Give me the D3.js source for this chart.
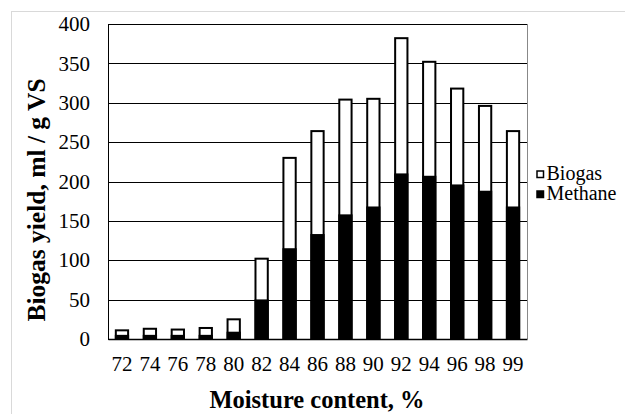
<!DOCTYPE html>
<html lang="en">
<head>
<meta charset="utf-8">
<title>Biogas yield</title>
<script src="https://d3js.org/d3.v7.min.js"></script>
<style>
  body { margin: 0; padding: 0; background: #fff; }
  svg { display: block; font-family: "Liberation Serif", "Times New Roman", serif; }
  .grid line { stroke: #000; stroke-width: 1px; shape-rendering: crispEdges; }
  .title { font-weight: bold; }
</style>
</head>
<body>
<script>
// moisture content categories (%)
var moisture = ["72", "74", "76", "78", "80", "82", "84", "86", "88", "90", "92", "94", "96", "98", "99"];
// yields, ml / g VS
var biogas  = [11, 13, 12, 14, 25, 102, 230, 264, 304, 305, 382, 352, 318, 296, 264];
var methane = [4, 4, 4, 4, 8, 49, 114, 132, 157, 167, 209, 206, 195, 187, 167];
var yTicks = [0, 50, 100, 150, 200, 250, 300, 350, 400];

var width = 625, height = 414;
var plotL = 108, plotR = 527, plotT = 24, plotB = 339;
var serif = '"Liberation Serif", "Times New Roman", serif';

var svg = d3.select("body").append("svg")
    .attr("width", width)
    .attr("height", height);

// chart frame (cut off at right and bottom)
svg.append("rect")
    .attr("x", 11.5).attr("y", 11.5)
    .attr("width", 700).attr("height", 500)
    .attr("fill", "none")
    .attr("stroke", "#d9d9d9");

var x = d3.scaleBand()
    .domain(moisture)
    .range([plotL, plotR])
    .paddingInner(0.56)
    .paddingOuter(0.28);

var y = d3.scaleLinear()
    .domain([0, 400])
    .range([plotB, plotT]);

// gridlines
svg.append("g").attr("class", "grid")
    .selectAll("line")
    .data(yTicks)
    .enter().append("line")
    .attr("x1", plotL).attr("x2", plotR)
    .attr("y1", function(d) { return Math.round(y(d)) + 0.5; })
    .attr("y2", function(d) { return Math.round(y(d)) + 0.5; });

// right edge of plot
svg.append("line")
    .attr("x1", plotR + 0.5).attr("x2", plotR + 0.5)
    .attr("y1", y(400)).attr("y2", y(0))
    .attr("stroke", "#888");

// y axis
var yAxis = svg.append("g")
    .attr("transform", "translate(" + plotL + ",0)")
    .call(d3.axisLeft(y).tickValues(yTicks).tickSize(0).tickPadding(18));
yAxis.select(".domain").attr("stroke", "#000");

// x axis
var xAxis = svg.append("g")
    .attr("transform", "translate(0," + plotB + ")")
    .call(d3.axisBottom(x).tickSize(0).tickPadding(17));
xAxis.select(".domain").attr("stroke", "#000").attr("stroke-width", 1.5);

svg.selectAll(".tick text")
    .style("font-family", serif)
    .style("font-size", "21px")
    .style("fill", "#000");

// bars
var bars = svg.append("g").selectAll("g")
    .data(moisture)
    .enter().append("g");

bars.append("rect")
    .attr("x", function(d) { return x(d); })
    .attr("width", x.bandwidth())
    .attr("y", function(d, i) { return y(biogas[i]); })
    .attr("height", function(d, i) { return y(0) - y(biogas[i]); })
    .attr("fill", "#fff")
    .attr("stroke", "#000")
    .attr("stroke-width", 2);

bars.append("rect")
    .attr("x", function(d) { return x(d); })
    .attr("width", x.bandwidth())
    .attr("y", function(d, i) { return y(methane[i]); })
    .attr("height", function(d, i) { return y(0) - y(methane[i]); })
    .attr("fill", "#000")
    .attr("stroke", "#000")
    .attr("stroke-width", 2);

// axis titles
svg.append("text")
    .attr("class", "title")
    .attr("x", 317).attr("y", 408)
    .attr("text-anchor", "middle")
    .style("font-size", "24.5px")
    .text("Moisture content, %");

svg.append("text")
    .attr("class", "title")
    .attr("transform", "translate(45,200) rotate(-90)")
    .attr("text-anchor", "middle")
    .style("font-size", "25.5px")
    .text("Biogas yield, ml / g VS");

// legend
var legend = [["Biogas", "#fff"], ["Methane", "#000"]];
var lg = svg.append("g").selectAll("g")
    .data(legend)
    .enter().append("g")
    .attr("transform", function(d, i) { return "translate(537," + (171 + i * 20) + ")"; });
lg.append("rect")
    .attr("width", 6.5).attr("height", 6.5)
    .attr("fill", function(d) { return d[1]; })
    .attr("stroke", "#000")
    .attr("stroke-width", 1.5);
lg.append("text")
    .attr("x", 9.5).attr("y", 8.5)
    .style("font-family", serif)
    .style("font-size", "20px")
    .text(function(d) { return d[0]; });
</script>
</body>
</html>
